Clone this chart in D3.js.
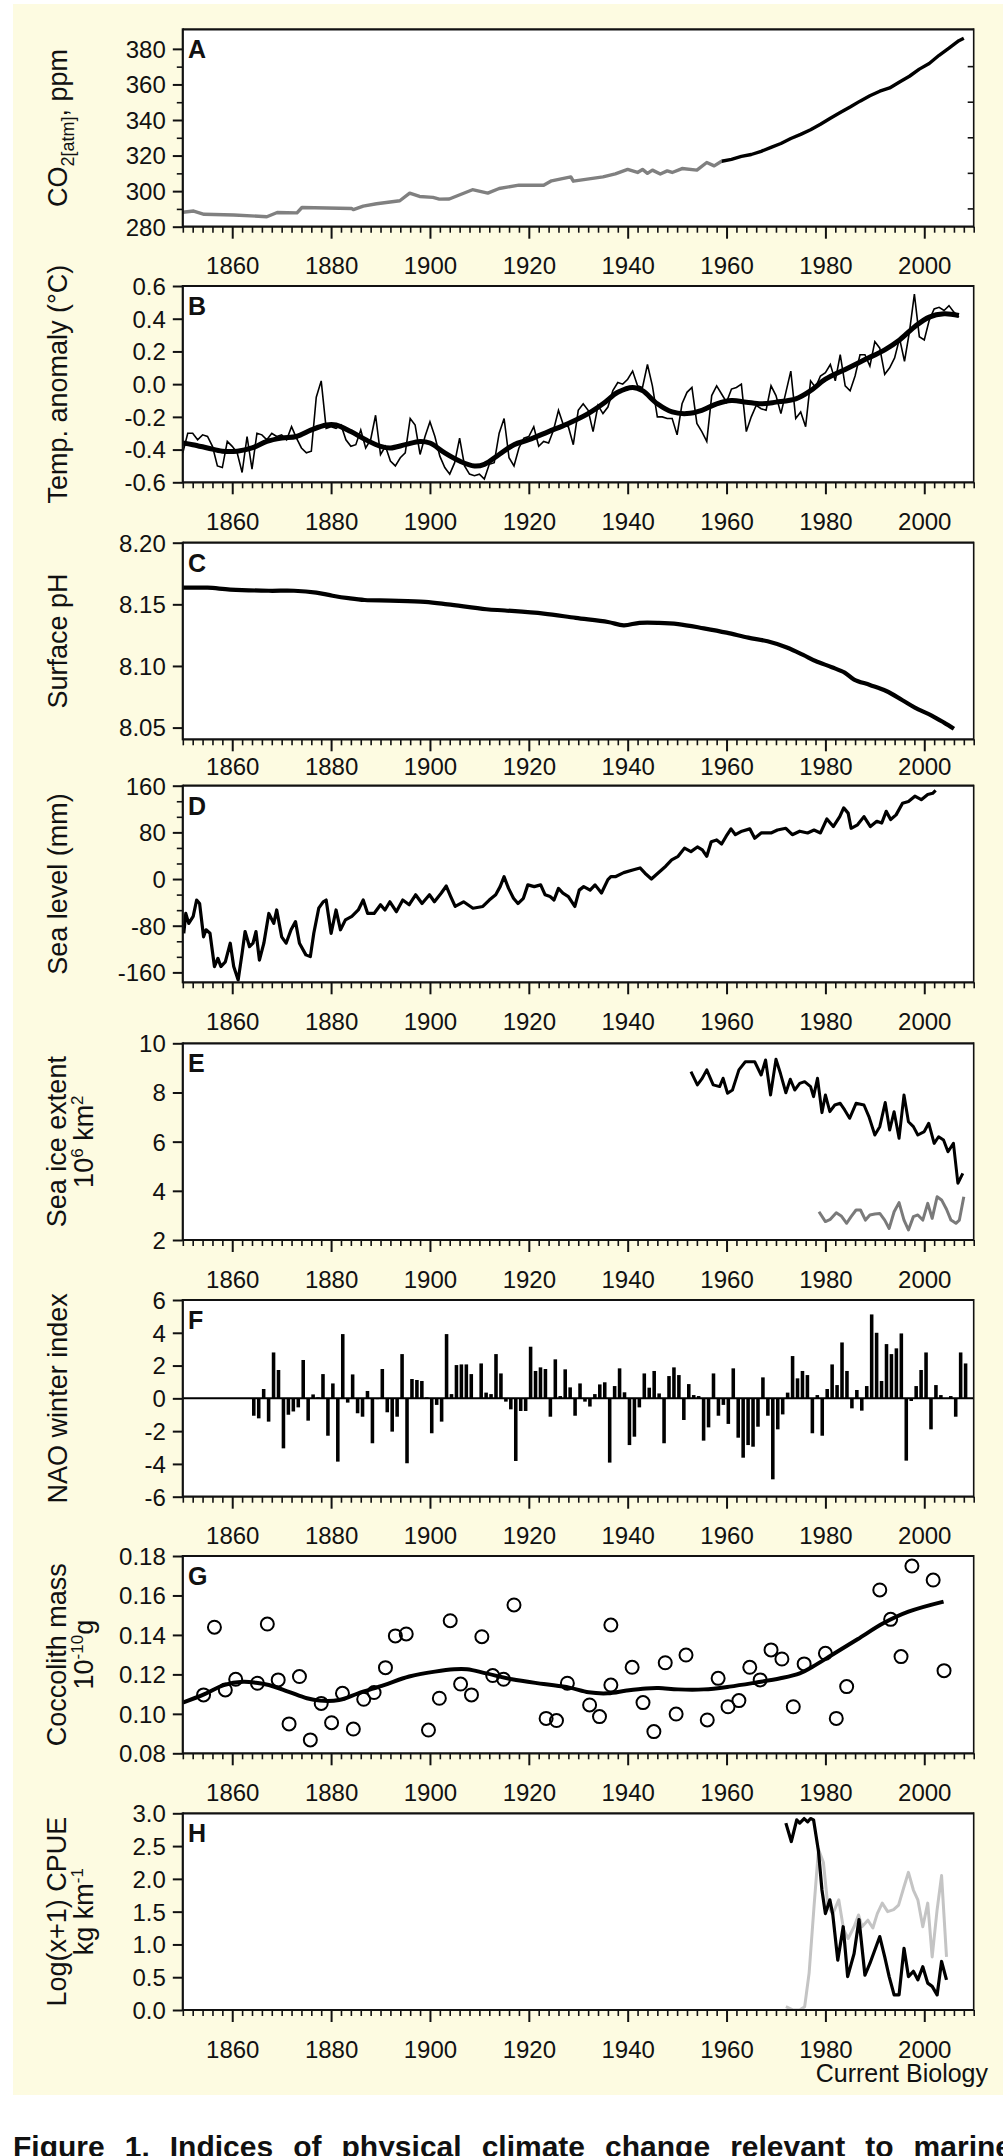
<!DOCTYPE html>
<html><head><meta charset="utf-8">
<script src="https://cdn.jsdelivr.net/npm/d3@7"></script>
<style>
body{margin:0;background:#fff}
svg{display:block}
text{font-family:"Liberation Sans",Arial,Helvetica,sans-serif;fill:#111}
</style></head>
<body><svg id="c" width="1003" height="2156"></svg>
<script>
// ---------------- DATA ----------------
// A: atmospheric CO2 (ppm) – ice core (grey) and Mauna Loa (black)
const co2IceYears = [1850,1852.2,1854.3,1860.3,1867,1869.1,1873.1,1874.1,1884.2,1884.5,1886.5,1889.2,1893.9,1895.9,1897.9,1900.6,1901.9,1903.9,1908.6,1911.7,1914,1918,1923,1924.6,1928.5,1929,1935,1937.5,1940,1942,1943,1944,1945,1946.6,1948,1949,1951,1954,1956,1957.5,1959];
const co2IceValues = [288.1,288.8,287.0,286.6,285.6,288.0,287.8,290.8,290.2,289.6,291.6,292.9,294.6,298.9,297.0,296.5,295.5,295.6,300.8,298.9,301.5,303.4,303.3,305.8,308.0,305.6,308.0,309.7,312.2,310.5,312.2,310.0,311.8,309.6,311.4,310.5,312.7,311.8,316.1,314.2,316.8];
const co2MloYears = [1959,1961,1963,1965,1967,1969,1971,1973,1975,1977,1979,1981,1983,1985,1987,1989,1991,1993,1995,1997,1999,2001,2003,2005,2007,2008];
const co2MloValues = [316.8,317.9,319.5,320.6,322.4,324.6,326.8,329.6,331.9,334.5,337.6,341.0,344.2,347.3,350.6,353.6,356.2,358.0,361.4,364.6,368.6,371.8,376.4,380.4,384.6,386.0];

// B: temperature anomaly (annual) and smoothed
const tempStart = 1850;
const tempAnnual = [-0.42,-0.30,-0.30,-0.34,-0.31,-0.32,-0.38,-0.50,-0.51,-0.35,
 -0.38,-0.42,-0.54,-0.32,-0.52,-0.30,-0.31,-0.34,-0.30,-0.32,
 -0.31,-0.34,-0.26,-0.33,-0.39,-0.42,-0.41,-0.08,0.02,-0.27,
 -0.26,-0.27,-0.25,-0.34,-0.38,-0.37,-0.28,-0.39,-0.34,-0.19,
 -0.43,-0.38,-0.47,-0.50,-0.45,-0.42,-0.21,-0.25,-0.43,-0.32,
 -0.23,-0.32,-0.44,-0.51,-0.55,-0.48,-0.33,-0.50,-0.55,-0.56,
 -0.55,-0.58,-0.49,-0.48,-0.30,-0.21,-0.45,-0.50,-0.39,-0.33,
 -0.32,-0.26,-0.38,-0.35,-0.36,-0.28,-0.16,-0.25,-0.26,-0.37,
 -0.16,-0.12,-0.16,-0.29,-0.13,-0.18,-0.14,-0.04,0.01,0.00,
 0.03,0.08,-0.01,-0.02,0.12,-0.01,-0.20,-0.20,-0.21,-0.21,
 -0.31,-0.12,-0.05,-0.02,-0.24,-0.29,-0.35,-0.07,-0.01,-0.06,
 -0.11,-0.03,-0.02,0.00,-0.29,-0.20,-0.13,-0.15,-0.16,-0.01,
 -0.07,-0.18,-0.05,0.08,-0.21,-0.17,-0.26,0.02,-0.02,0.05,
 0.07,0.12,0.02,0.18,-0.01,-0.04,0.05,0.18,0.18,0.11,
 0.26,0.22,0.06,0.10,0.16,0.28,0.14,0.32,0.55,0.29,
 0.27,0.39,0.46,0.47,0.45,0.48,0.44,0.41];
const tempSmoothYears = [1850,1852,1855,1858,1861,1864,1867,1870,1873,1876,1879,1881,1884,1887,1890,1892,1895,1898,1900,1903,1906,1909,1911,1914,1917,1920,1924,1928,1932,1935,1938,1941,1943,1946,1949,1952,1955,1958,1961,1964,1967,1970,1974,1977,1980,1984,1988,1992,1995,1998,2001,2004,2007];
const tempSmoothValues = [-0.36,-0.37,-0.39,-0.41,-0.41,-0.39,-0.35,-0.33,-0.32,-0.28,-0.25,-0.25,-0.29,-0.34,-0.38,-0.39,-0.37,-0.35,-0.36,-0.42,-0.47,-0.50,-0.49,-0.43,-0.37,-0.34,-0.29,-0.24,-0.18,-0.12,-0.05,-0.02,-0.04,-0.12,-0.17,-0.18,-0.16,-0.12,-0.10,-0.11,-0.12,-0.11,-0.09,-0.04,0.03,0.09,0.15,0.21,0.27,0.35,0.41,0.43,0.42];

// C: surface pH
const phYears = [1850,1855,1859.6,1867.4,1872.5,1877,1880.3,1883.5,1886.8,1892,1899,1903.6,1911.4,1915.2,1923,1929.5,1936,1939.2,1942.4,1946.3,1950.2,1955.4,1960,1964.4,1968.3,1972.2,1975.5,1978,1981.3,1983.9,1985.8,1989,1992.3,1995.5,1998.1,2001.4,2004,2006];
const phValues = [8.1635,8.1635,8.162,8.161,8.161,8.1595,8.157,8.155,8.1535,8.153,8.152,8.150,8.146,8.145,8.1425,8.139,8.1357,8.133,8.135,8.135,8.134,8.1305,8.127,8.123,8.120,8.115,8.109,8.104,8.099,8.0946,8.089,8.0846,8.0797,8.0724,8.0662,8.060,8.054,8.049];

// D: sea level (mm)
const slYears = [1850.2,1850.6,1851.2,1852.1,1852.8,1853.4,1854.2,1854.7,1855.5,1856.4,1857.1,1857.7,1858.6,1859.6,1860.3,1861.2,1862,1862.6,1863.5,1864.2,1864.8,1865.5,1866.4,1867.4,1868.4,1869,1870,1870.9,1871.9,1872.8,1873.6,1874.9,1875.8,1876.5,1877.5,1878.4,1879,1880,1881,1881.9,1882.9,1884.2,1885.5,1886.5,1887.4,1888.7,1890,1890.9,1891.9,1893.2,1894.5,1895.8,1897.1,1898.4,1899.9,1900.9,1902.3,1903.3,1904.2,1905.1,1906.8,1908.7,1910.7,1912,1913.3,1914.2,1915,1915.9,1916.9,1917.8,1918.9,1919.8,1921.1,1922.4,1923.3,1924.3,1925.1,1926,1926.9,1928,1929.3,1930.2,1931.1,1932.4,1933.4,1934.7,1936,1936.6,1937.5,1939.2,1941.2,1942.5,1943.5,1944.8,1946.1,1947.7,1948.9,1950.2,1951.5,1952.8,1954.1,1955.1,1956,1956.9,1958,1959,1959.9,1960.9,1961.8,1963.1,1964.7,1965.7,1967,1969,1970.3,1972,1973.3,1974.8,1976.4,1977.7,1979,1980.3,1981.6,1982.9,1983.7,1984.6,1985.2,1986.5,1987.8,1989.1,1990.4,1991.4,1992.3,1993.2,1994.3,1995.6,1996.8,1998.1,1999.4,2000.7,2001.7,2002.3];
const slValues = [-93,-59,-76,-64,-36,-42,-99,-87,-93,-150,-136,-150,-142,-110,-150,-173,-127,-90,-116,-110,-90,-139,-110,-59,-76,-53,-99,-110,-87,-73,-110,-130,-133,-93,-50,-39,-36,-93,-53,-87,-70,-64,-53,-36,-59,-59,-44,-53,-39,-56,-36,-44,-27,-42,-27,-39,-24,-12,-30,-47,-39,-50,-47,-36,-27,-13,4,-16,-33,-42,-33,-10,-13,-10,-27,-30,-36,-16,-24,-30,-47,-19,-13,-19,-10,-24,-1,4,4,11,16,19,10,0,10,22,33,39,53,47,55,50,39,64,67,60,73,86,76,82,86,70,79,79,84,87,76,82,79,84,79,103,90,107,122,113,87,93,107,90,99,96,116,102,110,130,133,142,136,145,147,152];

// E: sea ice extent (10^6 km^2) – winter (black) and summer (grey)
const iceWinterYears = [1952.8,1954.1,1955,1956,1957.3,1958.6,1959.3,1960.2,1961.2,1962.5,1963.8,1965.7,1967,1967.9,1968.9,1970,1970.9,1972,1972.9,1973.8,1974.8,1975.8,1977,1977.6,1978.4,1979.3,1980,1980.9,1981.9,1983,1983.9,1984.9,1986.2,1987.8,1988.8,1990,1991,1992.1,1993,1993.9,1994.9,1995.9,1996.8,1997.8,1998.7,2000,2000.9,2002,2002.9,2003.9,2004.8,2005.9,2006.8,2007.8];
const iceWinterValues = [8.85,8.31,8.55,8.92,8.31,8.24,8.58,7.97,8.10,8.92,9.25,9.25,8.71,9.32,7.90,9.35,8.78,7.99,8.54,8.10,8.37,8.44,8.24,7.83,8.58,7.18,7.90,7.22,7.49,7.56,7.29,6.95,7.56,7.49,7.02,6.27,6.61,7.59,6.47,7.22,6.14,7.90,6.81,6.61,6.27,6.41,6.75,5.93,6.20,6.07,5.59,5.93,4.31,4.71];
const iceSummerYears = [1978.7,1980,1981,1982.2,1983.2,1984.3,1985.2,1986.2,1987.1,1988.1,1989,1990,1991,1992,1992.9,1993.9,1994.9,1995.9,1996.8,1997.8,1998.7,1999.7,2000.7,2001.6,2002.6,2003.5,2004.5,2005.4,2006.4,2007.1,2008];
const iceSummerValues = [3.15,2.75,2.84,3.11,2.98,2.68,2.95,3.22,3.22,2.81,3.02,3.06,3.08,2.81,2.47,3.15,3.52,2.81,2.41,2.95,3.02,2.81,3.49,2.88,3.76,3.63,3.25,2.81,2.68,2.81,3.76];

// F: NAO winter index
const naoStart = 1864;
const naoValues = [-1.06,-1.22,0.57,-1.42,2.80,1.73,-3.05,-1.00,-0.80,-0.55,
 2.34,-1.36,0.24,0.06,1.48,-2.28,0.91,-3.86,3.92,-0.26,
 1.46,-0.91,-1.12,0.45,-2.74,-0.05,1.79,-0.85,-2.03,-1.12,
 2.70,-3.96,1.18,1.12,1.06,0.06,-2.13,-0.40,-1.42,3.92,
 0.26,2.03,2.07,2.07,1.48,0.02,2.13,0.35,0.26,2.70,
 1.52,-0.20,-0.67,-3.82,-0.77,-0.77,3.15,1.67,1.89,1.79,
 -1.12,2.38,0.14,1.77,0.67,-1.06,0.91,-0.20,-0.50,0.26,
 0.85,0.98,-3.92,0.75,1.83,0.37,-2.85,-2.34,-0.55,1.52,
 0.65,1.67,0.30,-2.74,1.36,1.89,1.42,-1.32,0.87,0.20,
 0.14,-2.58,-1.77,1.52,-1.06,-0.40,-1.56,1.83,-2.40,-3.62,
 -2.85,-2.95,-1.73,1.28,-1.06,-4.94,-1.89,-0.98,0.35,2.58,
 1.22,1.67,1.42,-2.13,0.20,-2.28,0.57,2.07,0.81,3.41,
 1.67,-0.61,0.51,-0.75,0.75,5.12,4.00,1.06,3.31,2.70,
 3.05,3.96,-3.80,-0.16,0.75,1.73,2.80,-1.89,0.81,0.20,
 0.00,0.14,-1.12,2.80,2.13];

// G: coccolith mass (10^-10 g)
const coccoYears = [1854.2,1856.4,1858.6,1860.7,1865.1,1867.1,1869.3,1871.5,1873.6,1875.8,1878,1880.1,1882.3,1884.5,1886.6,1888.7,1891,1893,1895.2,1899.7,1901.9,1904.1,1906.2,1908.4,1910.5,1912.7,1914.9,1917,1923.5,1925.6,1927.8,1932.3,1934.3,1936.6,1936.6,1940.9,1943.1,1945.3,1947.6,1949.8,1951.8,1956.1,1958.3,1960.3,1962.5,1964.7,1966.8,1969,1971.2,1973.5,1975.7,1980,1982.2,1984.3,1991,1993.2,1995.3,1997.5,2001.8,2004];
const coccoValues = [0.1096,0.1439,0.1121,0.1175,0.1155,0.1455,0.1172,0.0949,0.1189,0.0868,0.1053,0.0955,0.1104,0.0923,0.1074,0.1108,0.1234,0.1395,0.1405,0.0918,0.1079,0.1472,0.1151,0.1096,0.1391,0.1194,0.1175,0.1552,0.0977,0.0966,0.1155,0.1045,0.0986,0.1146,0.1450,0.1236,0.1057,0.0910,0.1259,0.0999,0.1298,0.0969,0.1180,0.1036,0.1067,0.1236,0.1172,0.1324,0.1278,0.1036,0.1253,0.1307,0.0977,0.1138,0.1628,0.1479,0.1290,0.1749,0.1678,0.1219];
const coccoSmoothYears = [1850,1854.4,1858.3,1862.2,1864.8,1867.4,1871.3,1875.1,1877.7,1881.6,1885.5,1890.7,1895.8,1901,1904.9,1907.5,1911.4,1916.6,1923,1928.2,1932.1,1936,1939.8,1943.7,1946.3,1950.2,1955.4,1960.6,1965.8,1970.9,1974.8,1977.4,1981.3,1986.5,1991.7,1996.8,2003.9];
const coccoSmoothValues = [0.1057,0.110,0.1146,0.1163,0.1158,0.1146,0.1113,0.1079,0.1067,0.107,0.1104,0.1146,0.1189,0.1214,0.1226,0.1226,0.1205,0.1175,0.1151,0.1133,0.1109,0.1104,0.1118,0.1129,0.1131,0.1124,0.1124,0.1138,0.1158,0.118,0.1205,0.1239,0.1298,0.1378,0.1459,0.1518,0.1569];

// H: Log(x+1) CPUE – black and light grey series
const cpueBlackYears = [1972,1973.1,1974.2,1974.8,1975.7,1976.4,1977,1977.6,1978.6,1979.3,1980,1980.9,1981.5,1982.5,1983.6,1984.5,1985.8,1986.8,1988,1989,1991,1992,1992.9,1993.9,1994.9,1995.9,1996.8,1997.8,1998.7,1999.7,2000.7,2001.6,2002.6,2003.5,2004.5];
const cpueBlackValues = [2.85,2.57,2.90,2.85,2.92,2.87,2.92,2.90,2.42,1.83,1.47,1.68,1.45,0.76,1.27,0.51,0.86,1.38,0.53,0.71,1.12,0.81,0.51,0.23,0.23,0.94,0.51,0.59,0.46,0.66,0.41,0.36,0.23,0.74,0.46];
const cpueGreyYears = [1972,1973.5,1974.8,1975.8,1976.7,1977.7,1978.6,1979.6,1980.5,1981.5,1982.7,1983.7,1984.6,1985.8,1986.7,1987.4,1988.6,1989.6,1990.5,1991.5,1992.6,1993.8,1994.8,1995.9,1996.8,1997.8,1998.7,1999.7,2000.7,2001.6,2002.6,2003.5,2004.5];
const cpueGreyValues = [0.05,0.0,0.0,0.05,0.56,1.58,2.45,2.25,1.58,1.47,1.68,1.22,1.09,1.27,1.45,1.27,1.37,1.25,1.47,1.63,1.50,1.53,1.60,1.88,2.10,1.83,1.68,1.27,1.63,0.81,1.53,2.05,0.81];

// Axis tick labels
const yearTicks = [1860,1880,1900,1920,1940,1960,1980,2000];
const ticksA = [280,300,320,340,360,380];
const ticksB = [-0.6,-0.4,-0.2,0.0,0.2,0.4,0.6];
const ticksC = [8.05,8.10,8.15,8.20];
const ticksD = [-160,-80,0,80,160];
const ticksE = [2,4,6,8,10];
const ticksF = [-6,-4,-2,0,2,4,6];
const ticksG = [0.08,0.10,0.12,0.14,0.16,0.18];
const ticksH = [0.0,0.5,1.0,1.5,2.0,2.5,3.0];

// ---------------- DRAWING ----------------
const svg = d3.select("#c");
const FONT = '"Liberation Sans",Arial,Helvetica,sans-serif';
svg.append("rect").attr("x",13).attr("y",4).attr("width",990).attr("height",2091).attr("fill","#fdfbe1");

const X0 = 182.8, X1 = 973.7;
const x = d3.scaleLinear().domain([1850,2010]).range([X0,X1]);
const zip = (a,b)=>a.map((d,i)=>[d,b[i]]);

const TF = 27; // axis title font size
const panels = [
 {id:"A", top:29.3, bottom:226.7, domain:[280,391], ticks:ticksA, minor:[290,310,330,350,370], fmt:d=>String(d), pad:18.5, title:[["CO",{sub:"2[atm]"},", ppm"]]},
 {id:"B", top:286, bottom:482.3, domain:[-0.6,0.6], ticks:ticksB, minor:[], fmt:d=>d.toFixed(1), pad:18.5, title:[["Temp. anomaly (°C)"]]},
 {id:"C", top:542.7, bottom:739.3, domain:[8.0405,8.2], ticks:ticksC, minor:[], fmt:d=>d.toFixed(2), pad:7, title:[["Surface pH"]]},
 {id:"D", top:785.7, bottom:982.3, domain:[-177,160], ticks:ticksD, minor:d3.range(-160,161,80/3).filter((d,i)=>i%3!==0), fmt:d=>String(d), pad:18.5, title:[["Sea level (mm)"]]},
 {id:"E", top:1043.3, bottom:1240, domain:[2,10], ticks:ticksE, minor:[], fmt:d=>String(d), pad:18.5, title:[["Sea ice extent"],["10",{sup:"6"}," km",{sup:"2"}]]},
 {id:"F", top:1300, bottom:1496.7, domain:[-6,6], ticks:ticksF, minor:[], fmt:d=>String(d), pad:18.5, title:[["NAO winter index"]]},
 {id:"G", top:1556, bottom:1753.3, domain:[0.08,0.18], ticks:ticksG, minor:[], fmt:d=>d.toFixed(2), pad:18.5, title:[["Coccolith mass"],["10",{sup:"-10"},"g"]]},
 {id:"H", top:1813.3, bottom:2010, domain:[0,3], ticks:ticksH, minor:[], fmt:d=>d.toFixed(1), pad:18.5, title:[["Log(x+1) CPUE"],["kg km",{sup:"-1"}]]}
];

panels.forEach(p=>{
  const y = d3.scaleLinear().domain(p.domain).range([p.bottom,p.top]);
  p.y = y;
  const g = svg.append("g");
  g.append("rect").attr("x",X0).attr("y",p.top).attr("width",X1-X0).attr("height",p.bottom-p.top).attr("fill","#fff");
  g.append("clipPath").attr("id","clip"+p.id).append("rect").attr("x",X0).attr("y",p.top).attr("width",X1-X0).attr("height",p.bottom-p.top);
  p.plot = g.append("g").attr("clip-path",`url(#clip${p.id})`);

  // x axis major and minor
  const ax = svg.append("g").attr("transform",`translate(0,${p.bottom})`)
    .call(d3.axisBottom(x).tickValues(yearTicks).tickSize(12).tickPadding(p.pad).tickFormat(d3.format("d")));
  ax.select(".domain").remove();
  ax.selectAll("line").attr("stroke","#111").attr("stroke-width",2);
  ax.selectAll("text").attr("font-size",24).attr("font-family",FONT).attr("fill","#111");
  const axm = svg.append("g").attr("transform",`translate(0,${p.bottom})`)
    .call(d3.axisBottom(x).tickValues(d3.range(1850,2011,2).filter(d=>d%20!==0)).tickSize(6).tickFormat(""));
  axm.select(".domain").remove();
  axm.selectAll("line").attr("stroke","#111").attr("stroke-width",1.6);

  // y axis
  const ay = svg.append("g").attr("transform",`translate(${X0},0)`)
    .call(d3.axisLeft(y).tickValues(p.ticks).tickSize(10).tickPadding(7).tickFormat(p.fmt));
  ay.select(".domain").remove();
  ay.selectAll("line").attr("stroke","#111").attr("stroke-width",2);
  ay.selectAll("text").attr("font-size",24).attr("font-family",FONT).attr("fill","#111").attr("dy","0.35em");
  if(p.minor.length){
    const aym = svg.append("g").attr("transform",`translate(${X0},0)`)
      .call(d3.axisLeft(y).tickValues(p.minor).tickSize(6).tickFormat(""));
    aym.select(".domain").remove();
    aym.selectAll("line").attr("stroke","#111").attr("stroke-width",1.6);
  }
  p.frame = ()=>{
    const f = svg.append("g").attr("stroke","#111").attr("fill","none");
    f.append("line").attr("x1",X0).attr("x2",X1).attr("y1",p.top).attr("y2",p.top).attr("stroke-width",2.2);
    f.append("line").attr("x1",X0).attr("x2",X1).attr("y1",p.bottom).attr("y2",p.bottom).attr("stroke-width",2.2);
    f.append("line").attr("x1",X0).attr("x2",X0).attr("y1",p.top-1).attr("y2",p.bottom+1).attr("stroke-width",2.2);
    f.append("line").attr("x1",X1).attr("x2",X1).attr("y1",p.top-1).attr("y2",p.bottom+1).attr("stroke-width",1.6);
  };
  // panel letter
  svg.append("text").attr("x",188).attr("y",p.top+29).attr("font-size",25).attr("font-weight","bold").text(p.id);
  // title
  const cy = (p.top+p.bottom)/2;
  const n = p.title.length;
  p.title.forEach((line,li)=>{
    const bx = n===1 ? 67 : (li===0 ? 66 : 93);
    const t = svg.append("text").attr("transform",`translate(${bx},${cy}) rotate(-90)`)
      .attr("text-anchor","middle").attr("font-size",TF);
    let shift = 0;
    line.forEach(part=>{
      if(typeof part==="string"){
        t.append("tspan").attr("dy",-shift).attr("font-size",TF).text(part); shift=0;
      } else if(part.sub){
        t.append("tspan").attr("dy",7).attr("font-size",18).text(part.sub); shift=7;
      } else if(part.sup){
        t.append("tspan").attr("dy",-10).attr("font-size",17).text(part.sup); shift=-10;
      }
    });
  });
});

const P = Object.fromEntries(panels.map(p=>[p.id,p]));
const lineGen = (p,curve)=>d3.line().x(d=>x(d[0])).y(d=>p.y(d[1])).curve(curve||d3.curveLinear);

// A
P.A.plot.append("path").datum(zip(co2IceYears,co2IceValues)).attr("d",lineGen(P.A)).attr("fill","none").attr("stroke","#808080").attr("stroke-width",3.4).attr("stroke-linejoin","round");
P.A.plot.append("path").datum(zip(co2MloYears,co2MloValues)).attr("d",lineGen(P.A)).attr("fill","none").attr("stroke","#000").attr("stroke-width",3.4).attr("stroke-linejoin","round");
// B
P.B.plot.append("path").datum(tempAnnual.map((v,i)=>[tempStart+i,v])).attr("d",lineGen(P.B)).attr("fill","none").attr("stroke","#000").attr("stroke-width",1.6);
P.B.plot.append("path").datum(zip(tempSmoothYears,tempSmoothValues)).attr("d",lineGen(P.B,d3.curveCatmullRom)).attr("fill","none").attr("stroke","#000").attr("stroke-width",5);
// C
P.C.plot.append("path").datum(zip(phYears,phValues)).attr("d",lineGen(P.C,d3.curveCatmullRom)).attr("fill","none").attr("stroke","#000").attr("stroke-width",4.2);
// D
P.D.plot.append("path").datum(zip(slYears,slValues)).attr("d",lineGen(P.D)).attr("fill","none").attr("stroke","#000").attr("stroke-width",3.2).attr("stroke-linejoin","round");
// E
P.E.plot.append("path").datum(zip(iceWinterYears,iceWinterValues)).attr("d",lineGen(P.E)).attr("fill","none").attr("stroke","#000").attr("stroke-width",3).attr("stroke-linejoin","round");
P.E.plot.append("path").datum(zip(iceSummerYears,iceSummerValues)).attr("d",lineGen(P.E)).attr("fill","none").attr("stroke","#7a7a7a").attr("stroke-width",3).attr("stroke-linejoin","round");
// F
P.F.plot.selectAll("rect.bar").data(naoValues.map((v,i)=>[naoStart+i,v])).join("rect")
  .attr("x",d=>x(d[0])).attr("width",x(1850.72)-x(1850))
  .attr("y",d=>P.F.y(Math.max(0,d[1]))).attr("height",d=>Math.abs(P.F.y(d[1])-P.F.y(0)))
  .attr("fill","#000");
P.F.plot.append("line").attr("x1",X0).attr("x2",X1).attr("y1",P.F.y(0)).attr("y2",P.F.y(0)).attr("stroke","#000").attr("stroke-width",2);
// G
P.G.plot.append("path").datum(zip(coccoSmoothYears,coccoSmoothValues)).attr("d",lineGen(P.G,d3.curveCatmullRom)).attr("fill","none").attr("stroke","#000").attr("stroke-width",4);
P.G.plot.selectAll("circle").data(zip(coccoYears,coccoValues)).join("circle")
  .attr("cx",d=>x(d[0])).attr("cy",d=>P.G.y(d[1])).attr("r",6.5).attr("fill","none").attr("stroke","#000").attr("stroke-width",2);
// H
P.H.plot.append("path").datum(zip(cpueGreyYears,cpueGreyValues)).attr("d",lineGen(P.H)).attr("fill","none").attr("stroke","#c4c4c4").attr("stroke-width",3).attr("stroke-linejoin","round");
P.H.plot.append("path").datum(zip(cpueBlackYears,cpueBlackValues)).attr("d",lineGen(P.H)).attr("fill","none").attr("stroke","#000").attr("stroke-width",3.2).attr("stroke-linejoin","round");

panels.forEach(p=>p.frame());

// right-side inner ticks on panel A
svg.append("g").selectAll("line").data([290,310,330,350,370]).join("line")
  .attr("x1",X1-6).attr("x2",X1).attr("y1",d=>P.A.y(d)).attr("y2",d=>P.A.y(d)).attr("stroke","#111").attr("stroke-width",1.6);

// credit
svg.append("text").attr("x",988).attr("y",2082).attr("text-anchor","end").attr("font-size",25).text("Current Biology");

// caption (justified)
const caption = "Figure 1. Indices of physical climate change relevant to marine";
const words = caption.split(" ");
const cap = svg.append("g").attr("font-size",30).attr("font-weight","bold");
const tw = words.map(w=>cap.append("text").attr("x",0).attr("y",2157).text(w));
const widths = tw.map(t=>t.node().getComputedTextLength());
const xs0 = 13, xs1 = 1012;
const gap = (xs1-xs0-d3.sum(widths))/(words.length-1);
let cx = xs0;
tw.forEach((t,i)=>{t.attr("x",cx); cx += widths[i]+gap;});
</script></body></html>
